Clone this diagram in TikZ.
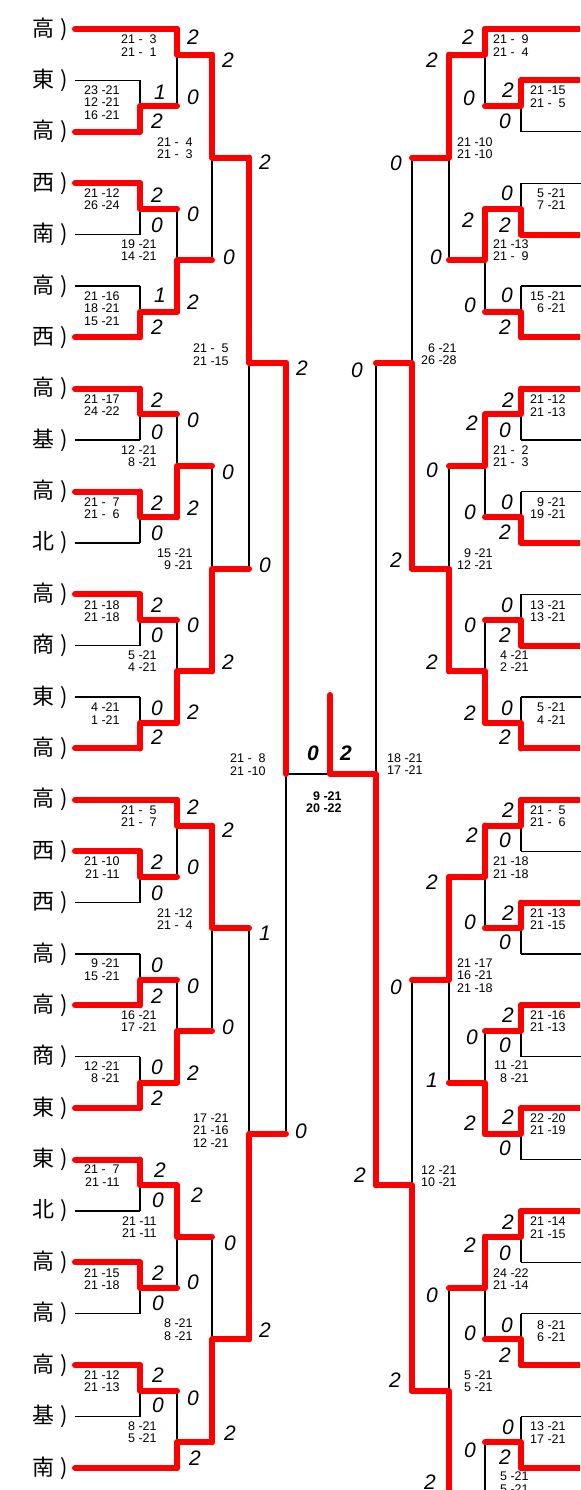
\documentclass[tikz,border=0pt]{standalone}
\usepackage{fontspec}
\setmainfont{Liberation Sans}
\newfontfamily\cjkf{Noto Sans CJK JP}
\usetikzlibrary{backgrounds}
\newcommand\myscf{\fontsize{6.25pt}{6.25pt}\selectfont}
\newcommand\myglf{\fontsize{10.5pt}{12pt}\selectfont\itshape}
\newcommand\mytmf{\fontsize{11pt}{13pt}\selectfont\cjkf}
\newcommand\fs{\hspace{0.556em}}
\tikzset{
  bk/.style={black, line width=0.65pt},
  rd/.style={red, line width=3pt, line cap=round, line join=round},
  scb/.style={font=\myscf, align=right, anchor=east, inner sep=0pt},
  glb/.style={font=\myglf, inner sep=0pt},
  tm/.style={font=\mytmf, anchor=west, inner sep=0pt},
}
\newcommand\mt[6]{%
  \begin{pgfonlayer}{background}\draw[bk] (#1,#3) -- (#1,#4);\end{pgfonlayer}
  \draw[rd] (#1,#5) -- (#1,#6) -- (#2,#6);}
\newcommand\scr[3]{\node[scb] at (#1,#2) {#3};}
\newcommand\lb[3]{\node[glb] at (#1,#2) {#3};}
\begin{document}
\begin{tikzpicture}[x=0.5pt,y=-0.5pt]
\useasboundingbox (0,0) rectangle (580,1490);
\clip (0,0) rectangle (580,1490);
% ---------- leaves ----------
\begin{pgfonlayer}{background}
\foreach \i in {1,4,5,8,10,12,13,17,18,20,23,25,27}
  \draw[bk] (75,{29+51.39*\i}) -- (140,{29+51.39*\i});
\foreach \i in {2,3,5,8,9,11,13,16,18,20,22,24,25,27}
  \draw[bk] (521,{29+51.39*\i}) -- (590,{29+51.39*\i});
\end{pgfonlayer}
\foreach \i in {2,3,6,7,9,11,14,16,19,21,22,24,26}
  \draw[rd] (75,{29+51.39*\i}) -- (140,{29+51.39*\i});
\foreach \i in {0,15,28}
  \draw[rd] (75,{29+51.39*\i}) -- (177,{29+51.39*\i});
\foreach \i in {1,4,6,7,10,12,14,15,17,19,21,23,26,28}
  \draw[rd] (521,{29+51.39*\i}) -- (590,{29+51.39*\i});
\draw[rd] (485,29) -- (590,29);
% ---------- team labels ----------
\foreach \i/\t in {0/高,1/東,2/高,3/西,4/南,5/高,6/西,7/高,8/基,9/高,10/北,11/高,12/商,13/東,14/高,15/高,16/西,17/西,18/高,19/高,20/商,21/東,22/東,23/北,24/高,25/高,26/高,27/基,28/南}
  \node[tm] at (32,{29+51.39*\i}) {\t\hspace{3pt})};
% ---------- left matches ----------
\mt{140}{177}{80.4}{131.8}{131.8}{106.1}
\mt{177}{212}{29.0}{106.1}{29.0}{54.7}
\mt{140}{177}{183.2}{234.6}{183.2}{208.9}
\mt{140}{177}{286.0}{337.3}{337.3}{311.7}
\mt{177}{212}{208.9}{311.7}{311.7}{260.3}
\mt{212}{249}{54.7}{260.3}{54.7}{157.5}
\mt{140}{177}{388.7}{440.1}{388.7}{414.4}
\mt{140}{177}{491.5}{542.9}{491.5}{517.2}
\mt{177}{212}{414.4}{517.2}{517.2}{465.8}
\mt{140}{177}{594.3}{645.7}{594.3}{620.0}
\mt{140}{177}{697.1}{748.5}{748.5}{722.8}
\mt{177}{212}{620.0}{722.8}{722.8}{671.4}
\mt{212}{249}{465.8}{671.4}{671.4}{568.6}
\mt{249}{286}{157.5}{568.6}{157.5}{363.0}
\mt{140}{177}{851.2}{902.6}{851.2}{876.9}
\mt{177}{212}{799.9}{876.9}{799.9}{825.6}
\mt{140}{177}{954.0}{1005.4}{1005.4}{979.7}
\mt{140}{177}{1056.8}{1108.2}{1108.2}{1082.5}
\mt{177}{212}{979.7}{1082.5}{1082.5}{1031.1}
\mt{212}{249}{825.6}{1031.1}{825.6}{928.3}
\mt{140}{177}{1159.6}{1211.0}{1159.6}{1185.3}
\mt{140}{177}{1262.4}{1313.8}{1262.4}{1288.1}
\mt{177}{212}{1185.3}{1288.1}{1185.3}{1236.7}
\mt{140}{177}{1365.1}{1416.5}{1365.1}{1390.8}
\mt{177}{212}{1390.8}{1467.9}{1467.9}{1442.2}
\mt{212}{249}{1236.7}{1442.2}{1442.2}{1339.4}
\mt{249}{286}{928.3}{1339.4}{1339.4}{1133.9}
% ---------- right matches ----------
\mt{521}{485}{80.4}{131.8}{80.4}{106.1}
\mt{485}{449}{29.0}{106.1}{29.0}{54.7}
\mt{521}{485}{183.2}{234.6}{234.6}{208.9}
\mt{521}{485}{286.0}{337.3}{337.3}{311.7}
\mt{485}{449}{208.9}{311.7}{208.9}{260.3}
\mt{449}{412}{54.7}{260.3}{54.7}{157.5}
\mt{521}{485}{388.7}{440.1}{388.7}{414.4}
\mt{521}{485}{491.5}{542.9}{542.9}{517.2}
\mt{485}{449}{414.4}{517.2}{414.4}{465.8}
\mt{521}{485}{594.3}{645.7}{645.7}{620.0}
\mt{521}{485}{697.1}{748.5}{748.5}{722.8}
\mt{485}{449}{620.0}{722.8}{722.8}{671.4}
\mt{449}{412}{465.8}{671.4}{671.4}{568.6}
\mt{412}{376}{157.5}{568.6}{568.6}{363.0}
\mt{521}{485}{799.9}{851.2}{799.9}{825.6}
\mt{521}{485}{902.6}{954.0}{902.6}{928.3}
\mt{485}{449}{825.6}{928.3}{825.6}{877.0}
\mt{521}{485}{1005.4}{1056.8}{1005.4}{1031.1}
\mt{521}{485}{1108.2}{1159.6}{1108.2}{1133.9}
\mt{485}{449}{1031.1}{1133.9}{1133.9}{1082.5}
\mt{449}{412}{877.0}{1082.5}{877.0}{979.7}
\mt{521}{485}{1211.0}{1262.4}{1211.0}{1236.7}
\mt{521}{485}{1313.8}{1365.1}{1365.1}{1339.4}
\mt{485}{449}{1236.7}{1339.4}{1236.7}{1288.1}
\mt{521}{485}{1416.5}{1467.9}{1467.9}{1442.2}
\mt{485}{449}{1442.2}{1545.0}{1545.0}{1493.6}
\mt{449}{412}{1288.1}{1493.6}{1493.6}{1390.9}
\mt{412}{376}{979.7}{1390.9}{1390.9}{1185.3}
% ---------- final ----------
\begin{pgfonlayer}{background}
\draw[bk] (286,363.0) -- (286,1133.9);
\draw[bk] (286,774) -- (330,774);
\draw[bk] (376,363.0) -- (376,1185.3);
\end{pgfonlayer}
\draw[rd] (286,363.0) -- (286,774);
\draw[rd] (376,1185.3) -- (376,774) -- (330,774) -- (330,695);
% ---------- left game labels ----------
\lb{160}{92}{1}\lb{157}{121}{2}
\lb{193}{37}{2}\lb{193}{97}{0}
\lb{157}{195}{2}\lb{157}{225}{0}
\lb{160}{295}{1}\lb{157}{327}{2}
\lb{193}{214}{0}\lb{193}{302}{2}
\lb{228}{60}{2}\lb{229}{257}{0}
\lb{157}{400}{2}\lb{157}{432}{0}
\lb{157}{503}{2}\lb{157}{533}{0}
\lb{193}{420}{0}\lb{193}{508}{2}
\lb{157}{605}{2}\lb{157}{635}{0}
\lb{157}{708}{0}\lb{157}{737}{2}
\lb{193}{625}{0}\lb{193}{712}{2}
\lb{228}{472}{0}\lb{228}{662}{2}
\lb{265}{162}{2}\lb{265}{565}{0}
\lb{302}{368}{2}\lb{301}{1131}{0}
\lb{157}{862}{2}\lb{157}{893}{0}
\lb{193}{807}{2}\lb{193}{867}{0}
\lb{157}{965}{0}\lb{157}{996}{2}
\lb{157}{1067}{0}\lb{157}{1098}{2}
\lb{193}{986}{0}\lb{193}{1073}{2}
\lb{228}{830}{2}\lb{228}{1027}{0}
\lb{160}{1170}{2}\lb{158}{1200}{0}
\lb{158}{1273}{2}\lb{158}{1303}{0}
\lb{197}{1195}{2}\lb{193}{1282}{0}
\lb{158}{1375}{2}\lb{158}{1405}{0}
\lb{193}{1398}{0}\lb{195}{1458}{2}
\lb{230}{1243}{0}\lb{230}{1433}{2}
\lb{265}{933}{1}\lb{265}{1330}{2}
% ---------- right game labels ----------
\lb{508}{90}{2}\lb{505}{121}{0}
\lb{468}{37}{2}\lb{469}{98}{0}
\lb{507}{193}{0}\lb{505}{225}{2}
\lb{507}{295}{0}\lb{505}{327}{2}
\lb{468}{220}{2}\lb{470}{305}{0}
\lb{432}{60}{2}\lb{436}{257}{0}
\lb{396}{163}{0}\lb{396}{560}{2}
\lb{357}{370}{0}\lb{360}{1175}{2}
\lb{508}{400}{2}\lb{505}{430}{0}
\lb{507}{502}{0}\lb{505}{532}{2}
\lb{472}{423}{2}\lb{470}{512}{0}
\lb{507}{605}{0}\lb{505}{635}{2}
\lb{507}{708}{0}\lb{505}{737}{2}
\lb{470}{625}{0}\lb{470}{713}{2}
\lb{432}{470}{0}\lb{432}{662}{2}
\lb{508}{810}{2}\lb{505}{840}{0}
\lb{508}{913}{2}\lb{505}{942}{0}
\lb{472}{835}{2}\lb{470}{922}{0}
\lb{508}{1015}{2}\lb{505}{1045}{0}
\lb{508}{1117}{2}\lb{505}{1148}{0}
\lb{472}{1037}{0}\lb{470}{1123}{2}
\lb{432}{882}{2}\lb{432}{1080}{1}
\lb{396}{987}{0}\lb{395}{1380}{2}
\lb{508}{1222}{2}\lb{505}{1253}{0}
\lb{507}{1325}{0}\lb{505}{1355}{2}
\lb{470}{1245}{2}\lb{470}{1333}{0}
\lb{432}{1295}{0}\lb{430}{1482}{2}
\lb{508}{1427}{0}\lb{505}{1457}{2}
\lb{470}{1450}{0}
% final labels
\node[glb,font=\myglf\bfseries] at (313,753) {0};
\node[glb,font=\myglf\bfseries] at (346,753) {2};
\node[scb,font=\myscf\bfseries] at (342,802) {9 -21\\20 -22};
% ---------- left scores ----------
\scr{120}{102.5}{23 -21\\12 -21\\16 -21}
\scr{120}{199}{21 -12\\26 -24}
\scr{120}{308.5}{21 -16\\18 -21\\15 -21}
\scr{120}{405}{21 -17\\24 -22}
\scr{120}{508}{21 -\fs7\\21 -\fs6}
\scr{120}{611}{21 -18\\21 -18}
\scr{120}{713.5}{4 -21\\1 -21}
\scr{120}{867.5}{21 -10\\21 -11}
\scr{120}{969.5}{9 -21\\15 -21}
\scr{120}{1072}{12 -21\\8 -21}
\scr{120}{1175.5}{21 -\fs7\\21 -11}
\scr{120}{1279}{21 -15\\21 -18}
\scr{120}{1381}{21 -12\\21 -13}
\scr{157}{45.5}{21 -\fs3\\21 -\fs1}
\scr{157}{250}{19 -21\\14 -21}
\scr{157}{456}{12 -21\\8 -21}
\scr{157}{661}{5 -21\\4 -21}
\scr{157}{816}{21 -\fs5\\21 -\fs7}
\scr{157}{1021}{16 -21\\17 -21}
\scr{157}{1227}{21 -11\\21 -11}
\scr{157}{1432}{8 -21\\5 -21}
\scr{193}{148}{21 -\fs4\\21 -\fs3}
\scr{193}{559}{15 -21\\9 -21}
\scr{193}{919}{21 -12\\21 -\fs4}
\scr{193}{1329.5}{8 -21\\8 -21}
\scr{229}{354.5}{21 -\fs5\\21 -15}
\scr{229}{1130.5}{17 -21\\21 -16\\12 -21}
\scr{266}{764.5}{21 -\fs8\\21 -10}
% ---------- right scores ----------
\scr{566}{96.5}{21 -15\\21 -\fs5}
\scr{566}{199}{5 -21\\7 -21}
\scr{566}{302}{15 -21\\6 -21}
\scr{566}{405.5}{21 -12\\21 -13}
\scr{566}{508}{9 -21\\19 -21}
\scr{566}{611}{13 -21\\13 -21}
\scr{566}{713.5}{5 -21\\4 -21}
\scr{566}{816}{21 -\fs5\\21 -\fs6}
\scr{566}{919}{21 -13\\21 -15}
\scr{566}{1021}{21 -16\\21 -13}
\scr{566}{1124}{22 -20\\21 -19}
\scr{566}{1227.5}{21 -14\\21 -15}
\scr{566}{1331}{8 -21\\6 -21}
\scr{566}{1432.5}{13 -21\\17 -21}
\scr{529}{45.5}{21 -\fs9\\21 -\fs4}
\scr{529}{250}{21 -13\\21 -\fs9}
\scr{529}{456}{21 -\fs2\\21 -\fs3}
\scr{529}{661}{4 -21\\2 -21}
\scr{529}{867.5}{21 -18\\21 -18}
\scr{529}{1071.5}{11 -21\\8 -21}
\scr{529}{1279}{24 -22\\21 -14}
\scr{529}{1482.5}{5 -21\\5 -21}
\scr{493}{148}{21 -10\\21 -10}
\scr{493}{559}{9 -21\\12 -21}
\scr{493}{975.5}{21 -17\\16 -21\\21 -18}
\scr{493}{1381}{5 -21\\5 -21}
\scr{457}{354}{6 -21\\26 -28}
\scr{457}{1176}{12 -21\\10 -21}
\scr{423}{764}{18 -21\\17 -21}
\end{tikzpicture}
\end{document}
